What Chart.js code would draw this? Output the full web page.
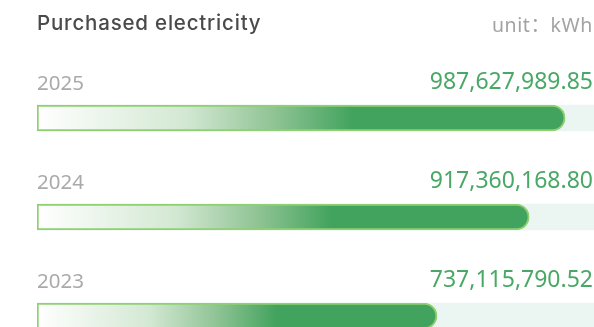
<!DOCTYPE html>
<html>
<head>
<meta charset="utf-8">
<script src="https://cdn.jsdelivr.net/npm/chart.js@4"></script>
<style>
  html, body { margin: 0; padding: 0; background: #ffffff; overflow: hidden; width: 594px; height: 327px; }
  #wrap { position: absolute; left: 0; top: 0; width: 594px; height: 370px; }
  #title { position: absolute; left: 37px; top: 10px; font-family: Inter, "Open Sans", sans-serif; font-weight: 500; font-size: 20.5px; letter-spacing: 0.8px; color: #4a4a4a; white-space: nowrap; }
  #unit { position: absolute; right: 1px; top: 9px; font-family: "Noto Sans", "Noto Sans CJK SC", sans-serif; font-size: 19.5px; letter-spacing: 0.6px; color: #a3a3a3; white-space: nowrap; }
</style>
</head>
<body>
<div id="wrap"><canvas id="c" width="594" height="370"></canvas></div>
<div id="title">Purchased electricity</div>
<div id="unit">unit：kWh</div>
<script>
// ---- data ----
const categories = ['2025', '2024', '2023'];
const values = [987627989.85, 917360168.80, 737115790.52];
const valueLabels = ['987,627,989.85', '917,360,168.80', '737,115,790.52'];
const axisMin = -45000000;
const axisMax = 1044000000;
const trackValues = categories.map(() => axisMax);

const GREEN = '#41a35d';

function barGradient(context) {
  const chart = context.chart;
  const { ctx, chartArea, scales } = chart;
  if (!chartArea || !scales.x) return GREEN;
  const v = context.raw;
  const x0 = scales.x.getPixelForValue(axisMin);
  const x1 = scales.x.getPixelForValue(v);
  const g = ctx.createLinearGradient(x0, 0, x1, 0);
  g.addColorStop(0, '#ffffff');
  g.addColorStop(0.28, '#d3e8d3');
  g.addColorStop(0.45, '#8fc394');
  g.addColorStop(0.6, GREEN);
  g.addColorStop(1, GREEN);
  return g;
}

const labelPlugin = {
  id: 'rowLabels',
  afterDatasetsDraw(chart) {
    const { ctx, chartArea, scales } = chart;
    ctx.save();
    ctx.textBaseline = 'alphabetic';
    categories.forEach((cat, i) => {
      const yc = scales.y.getPixelForValue(i);
      const base = yc - 13 - 15;
      ctx.font = '20.5px "Noto Sans", sans-serif';
      ctx.fillStyle = '#aaaaaa';
      ctx.textAlign = 'left';
      ctx.fillText(cat, chartArea.left, base);
      ctx.font = '23px "Noto Sans", sans-serif';
      ctx.fillStyle = '#4aa866';
      ctx.textAlign = 'right';
      ctx.fillText(valueLabels[i], chartArea.right - 1, base - 1);
    });
    ctx.restore();
  }
};

new Chart(document.getElementById('c'), {
  type: 'bar',
  data: {
    labels: categories,
    datasets: [
      {
        label: 'value',
        data: values,
        base: axisMin,
        backgroundColor: barGradient,
        borderColor: '#8fd070',
        borderWidth: 2,
        borderSkipped: false,
        borderRadius: { topLeft: 0, bottomLeft: 0, topRight: 13, bottomRight: 13 },
        barThickness: 26,
        grouped: false,
        order: 1
      },
      {
        label: 'track',
        data: trackValues,
        base: axisMin,
        backgroundColor: '#ebf5f2',
        borderWidth: 0,
        barThickness: 26,
        grouped: false,
        order: 2
      }
    ]
  },
  options: {
    indexAxis: 'y',
    responsive: false,
    animation: false,
    devicePixelRatio: 1,
    layout: { padding: { left: 37, right: 0, top: 68.5, bottom: 4.5 } },
    scales: {
      x: { type: 'linear', min: axisMin, max: axisMax, display: false },
      y: { type: 'category', display: false }
    },
    plugins: {
      legend: { display: false },
      tooltip: { enabled: false },
      title: { display: false }
    }
  },
  plugins: [labelPlugin]
});
</script>
</body>
</html>
